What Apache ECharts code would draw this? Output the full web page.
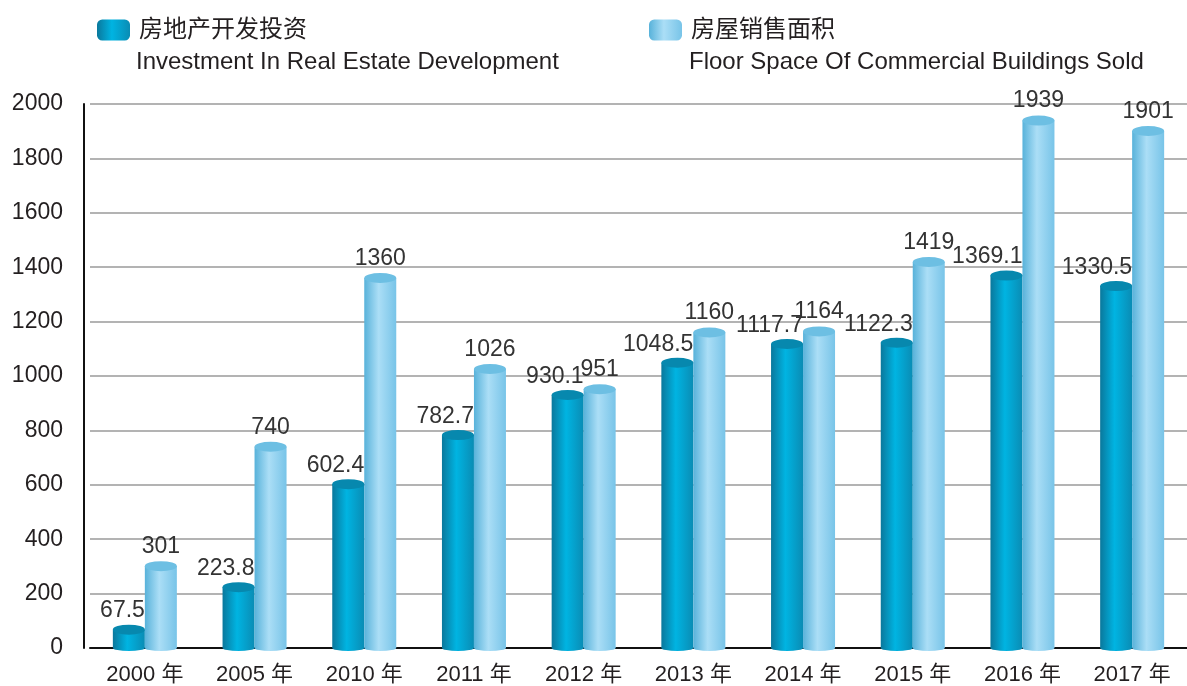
<!DOCTYPE html>
<html lang="zh">
<head>
    <meta charset="UTF-8">
    <title>房地产开发投资 / 房屋销售面积</title>
    <script src="https://cdn.jsdelivr.net/npm/echarts@6/dist/echarts.min.js"></script>
    <style>
        html, body { margin: 0; padding: 0; background: #fff; }
        #chart { width: 1187px; height: 686px; }
    </style>
</head>
<body>
<div id="chart"></div>
<script>
    // 数据
    var years = ['2000 年', '2005 年', '2010 年', '2011 年', '2012 年', '2013 年', '2014 年', '2015 年', '2016 年', '2017 年'];
    var investment = [67.5, 223.8, 602.4, 782.7, 930.1, 1048.5, 1117.7, 1122.3, 1369.1, 1330.5];
    var floorSpace = [301, 740, 1360, 1026, 951, 1160, 1164, 1419, 1939, 1901];
    var yTicks = [0, 200, 400, 600, 800, 1000, 1200, 1400, 1600, 1800, 2000];

    var nameInv = '房地产开发投资';
    var nameFloor = '房屋销售面积';
    var enInv = 'Investment In Real Estate Development';
    var enFloor = 'Floor Space Of Commercial Buildings Sold';

    var font = '"Liberation Sans", Arial, "Noto Sans CJK SC", sans-serif';
    var txt = '#231f20';

    function cyl(c1, c2, c3) {
        return new echarts.graphic.LinearGradient(0, 0, 1, 0, [
            {offset: 0, color: c1},
            {offset: 0.45, color: c2},
            {offset: 1, color: c3}
        ]);
    }
    var darkBody = cyl('#0a789c', '#00b4e2', '#0a8cb4');
    var lightBody = cyl('#58b2da', '#abdef6', '#78c4e8');

    var chart = echarts.init(document.getElementById('chart'));
    chart.setOption({
        animation: false,
        textStyle: {fontFamily: font},
        legend: [
            {
                left: 92, top: 13, itemWidth: 33, itemHeight: 21, itemGap: 0,
                icon: 'roundRect',
                data: [nameInv],
                textStyle: {fontSize: 24, color: txt, fontFamily: font, padding: [0, 0, 0, 4]}
            },
            {
                left: 644, top: 13, itemWidth: 33, itemHeight: 21, itemGap: 0,
                icon: 'roundRect',
                data: [nameFloor],
                textStyle: {fontSize: 24, color: txt, fontFamily: font, padding: [0, 0, 0, 4]}
            }
        ],
        graphic: [
            {type: 'text', left: 136, top: 50, style: {text: enInv, fontSize: 24, fill: txt, fontFamily: font}},
            {type: 'text', left: 689, top: 50, style: {text: enFloor, fontSize: 24, fill: txt, fontFamily: font}}
        ],
        grid: {left: 90, top: 104, width: 1109, bottom: 38},
        xAxis: {
            type: 'category',
            data: years,
            axisTick: {show: false},
            axisLine: {lineStyle: {color: '#111', width: 2}},
            axisLabel: {fontSize: 22, color: txt, margin: 16}
        },
        yAxis: {
            type: 'value',
            min: yTicks[0],
            max: yTicks[yTicks.length - 1],
            interval: 200,
            offset: 6,
            axisLine: {show: true, lineStyle: {color: '#111', width: 2}},
            axisTick: {show: false},
            splitLine: {lineStyle: {color: '#b3b3b3', width: 2}},
            axisLabel: {
                fontSize: 23, color: txt, margin: 21, padding: [10, 0, 0, 0],
                formatter: function (v) { return String(v); }
            }
        },
        series: [
            {
                name: nameInv, type: 'bar', data: investment,
                barWidth: 32, barGap: 0,
                itemStyle: {color: darkBody},
                label: {
                    show: true, position: 'top', align: 'right', offset: [16, -2],
                    fontSize: 23, color: '#333', fontFamily: font
                }
            },
            {
                name: nameFloor, type: 'bar', data: floorSpace,
                barWidth: 32, barGap: 0,
                itemStyle: {color: lightBody},
                label: {
                    show: true, position: 'top', distance: 8,
                    fontSize: 23, color: '#333', fontFamily: font
                }
            },
            {
                type: 'pictorialBar', data: investment, z: 3,
                symbol: 'circle', symbolSize: [32, 10],
                symbolPosition: 'end', symbolOffset: [-16, '-50%'],
                itemStyle: {color: '#0788ae'},
                tooltip: {show: false}, silent: true
            },
            {
                type: 'pictorialBar', data: floorSpace, z: 3,
                symbol: 'circle', symbolSize: [32, 10],
                symbolPosition: 'end', symbolOffset: [16, '-50%'],
                itemStyle: {color: '#6dbfe3'},
                tooltip: {show: false}, silent: true
            },
            {
                type: 'pictorialBar', data: investment, z: 1,
                symbol: 'circle', symbolSize: [32, 6],
                symbolPosition: 'start', symbolOffset: [-16, '50%'],
                itemStyle: {color: darkBody},
                silent: true
            },
            {
                type: 'pictorialBar', data: floorSpace, z: 1,
                symbol: 'circle', symbolSize: [32, 6],
                symbolPosition: 'start', symbolOffset: [16, '50%'],
                itemStyle: {color: lightBody},
                silent: true
            }
        ]
    });
</script>
</body>
</html>
